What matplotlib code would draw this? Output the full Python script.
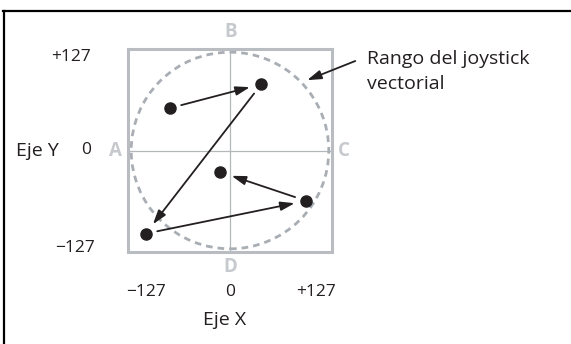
import matplotlib
matplotlib.use("Agg")
import matplotlib.pyplot as plt
from matplotlib.patches import Ellipse
from matplotlib.lines import Line2D

# joystick positions in the order they are visited
path_x = [-75, 39, -105, 95, -12]
path_y = [53, 83, -104, -63, -27]

tick_labels = ["\u2212127", "0", "+127"]
corner_letters = ["A", "B", "C", "D"]
x_title = "Eje X"
y_title = "Eje Y"
note = "Rango del joystick\nvectorial"

plt.rcParams["font.family"] = ["Open Sans", "DejaVu Sans"]

dark = "#231f20"
box_grey = "#b9bdc1"
letter_grey = "#c6c9cd"
head = "-|>,head_length=0.85,head_width=0.27"

fig = plt.figure(figsize=(5.71, 3.44), dpi=100)
ax = fig.add_axes([128 / 571, 1 - 252 / 344, 204 / 571, 203 / 344])
ax.set_xlim(-127, 127)
ax.set_ylim(-127, 127)
ax.set_xticks([])
ax.set_yticks([])
for s in ax.spines.values():
    s.set_color(box_grey)
    s.set_linewidth(2.2)

ax.axhline(0, color="#b5b8bb", lw=0.9, zorder=1)
ax.axvline(0, color="#b5b8bb", lw=0.9, zorder=1)

ax.add_patch(Ellipse((0, 0), 246, 246, fill=False, ec="#a9aeb4", lw=2.0,
                     linestyle=(0, (2.4, 1.8)), zorder=2))

ax.plot(path_x, path_y, "o", color=dark, ms=8, ls="none", zorder=4)
for i in range(len(path_x) - 1):
    ax.annotate("", xy=(path_x[i + 1], path_y[i + 1]), xytext=(path_x[i], path_y[i]),
                arrowprops=dict(arrowstyle=head, mutation_scale=10, color=dark, lw=1.3,
                                shrinkA=8.5, shrinkB=8.5), zorder=3)

# corner letters A (left), B (top), C (right), D (bottom)
letter_pos = [(-143, 0), (1, 148), (142, 0), (1, -146)]
for t, (lx, ly) in zip(corner_letters, letter_pos):
    ax.text(lx, ly, t, color=letter_grey, fontsize=13.5, fontweight="bold",
            ha="center", va="center", clip_on=False)

# axis value labels
for t, xx in zip(tick_labels, [-105, 0, 107]):
    ax.text(xx, -177, t, fontsize=12.5, color=dark, ha="center", va="center", clip_on=False)
for t, (xx, yy) in zip(tick_labels, [(-193, -122), (-179, 0), (-198, 117)]):
    ax.text(xx, yy, t, fontsize=12.5, color=dark, ha="center", va="center", clip_on=False)

ax.text(-7, -212, x_title, fontsize=14, color=dark, ha="center", va="center", clip_on=False)
ax.text(-240, 0, y_title, fontsize=14, color=dark, ha="center", va="center", clip_on=False)

ax.text(170, 99, note, fontsize=14, color=dark, ha="left", va="center",
        linespacing=1.45, clip_on=False)
ax.annotate("", xy=(96, 88), xytext=(156, 112), annotation_clip=False,
            arrowprops=dict(arrowstyle=head, mutation_scale=10, color=dark, lw=1.3,
                            shrinkA=0, shrinkB=0))

# outer frame (top and left edges)
fig.add_artist(Line2D([3.5 / 571, 3.5 / 571], [1 - 11 / 344, 0], color="black", lw=1.6))
fig.add_artist(Line2D([3 / 571, 1], [1 - 11 / 344, 1 - 11 / 344], color="black", lw=1.6))

fig.savefig("out.png", dpi=100)
